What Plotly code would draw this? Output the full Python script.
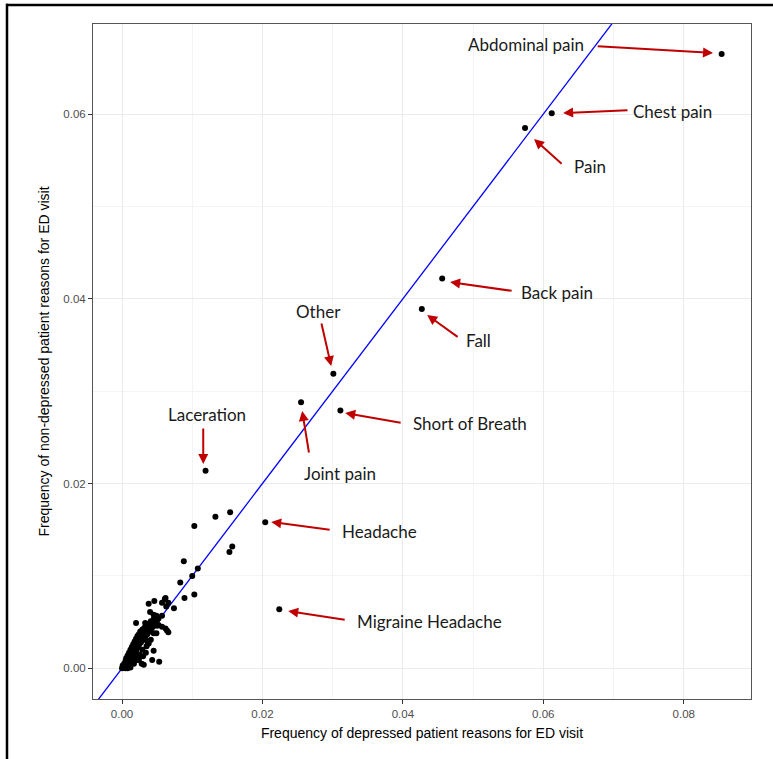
import plotly.graph_objects as go

# ---- data: frequency of ED visit reasons ----
named_reasons = ["Abdominal pain", "Chest pain", "Pain", "Back pain", "Fall", "Other",
                 "Joint pain", "Short of Breath", "Laceration", "Headache", "Migraine Headache"]
named_depressed = [0.0854, 0.0612, 0.0574, 0.0456, 0.0427, 0.0301,
                   0.0255, 0.0311, 0.0119, 0.0204, 0.0224]
named_nondepressed = [0.0665, 0.0601, 0.0585, 0.0422, 0.0389, 0.0319,
                      0.0288, 0.0279, 0.0214, 0.0158, 0.0064]

other_depressed = [
    0.0000, 0.0001, 0.0002, 0.0003, 0.0004, 0.0005, 0.0006, 0.0006, 0.0007, 0.0008,
    0.0008, 0.0009, 0.0010, 0.0010, 0.0011, 0.0012, 0.0012, 0.0013, 0.0014, 0.0014,
    0.0015, 0.0016, 0.0016, 0.0017, 0.0018, 0.0018, 0.0019, 0.0020, 0.0020, 0.0021,
    0.0022, 0.0022, 0.0023, 0.0024, 0.0024, 0.0025, 0.0026, 0.0027, 0.0028, 0.0029,
    0.0030, 0.0031, 0.0032, 0.0033, 0.0034, 0.0035, 0.0036, 0.0037, 0.0038, 0.0039,
    0.0040, 0.0041, 0.0042, 0.0043, 0.0044, 0.0045, 0.0046, 0.0047, 0.0048, 0.0049,
    0.0050, 0.0052, 0.0050,
    0.0038, 0.0046, 0.0057, 0.0061, 0.0066, 0.0063, 0.0040, 0.0045, 0.0047, 0.0057,
    0.0020, 0.0033, 0.0043, 0.0047, 0.0052, 0.0057, 0.0062, 0.0064, 0.0066, 0.0045,
    0.0045, 0.0043, 0.0053, 0.0028, 0.0031, 0.0026, 0.0019, 0.0021, 0.0062, 0.0074,
    0.0083, 0.0089, 0.0100, 0.0103, 0.0108, 0.0088, 0.0103, 0.0133, 0.0154, 0.0157, 0.0153,
    0.0015, 0.0025, 0.0035, 0.0030, 0.0012, 0.0008, 0.0038, 0.0034, 0.0049, 0.0041,
    0.0024, 0.0017, 0.0005, 0.0029, 0.0036,
]
other_nondepressed = [
    0.0000, 0.0003, 0.0001, 0.0005, 0.0002, 0.0008, 0.0004, 0.0011, 0.0007, 0.0002,
    0.0014, 0.0009, 0.0005, 0.0017, 0.0012, 0.0020, 0.0008, 0.0015, 0.0023, 0.0011,
    0.0018, 0.0026, 0.0013, 0.0021, 0.0029, 0.0016, 0.0024, 0.0032, 0.0019, 0.0027,
    0.0035, 0.0022, 0.0030, 0.0037, 0.0025, 0.0033, 0.0040, 0.0028, 0.0036, 0.0042,
    0.0031, 0.0038, 0.0044, 0.0034, 0.0041, 0.0046, 0.0037, 0.0043, 0.0048, 0.0040,
    0.0046, 0.0051, 0.0043, 0.0050, 0.0045, 0.0053, 0.0048, 0.0055, 0.0050, 0.0057,
    0.0052, 0.0054, 0.0046,
    0.0070, 0.0073, 0.0071, 0.0075, 0.0071, 0.0067, 0.0061, 0.0058, 0.0054, 0.0057,
    0.0049, 0.0049, 0.0050, 0.0049, 0.0047, 0.0045, 0.0043, 0.0041, 0.0039, 0.0038,
    0.0019, 0.0009, 0.0007, 0.0005, 0.0004, 0.0013, 0.0011, 0.0009, 0.0076, 0.0065,
    0.0093, 0.0076, 0.0100, 0.0080, 0.0108, 0.0116, 0.0154, 0.0164, 0.0169, 0.0132, 0.0126,
    0.0006, 0.0015, 0.0024, 0.0013, 0.0001, 0.0000, 0.0027, 0.0017, 0.0038, 0.0031,
    0.0009, 0.0005, 0.0000, 0.0020, 0.0029,
]

tick_values = [0.00, 0.02, 0.04, 0.06, 0.08]
tick_labels = ["0.00", "0.02", "0.04", "0.06", "0.08"]
ref_line = [-0.01, 0.10]  # identity line y = x

# label text centres and arrow (tail -> head) positions, in data units
label_text_pos = {
    "Abdominal pain": (0.05755, 0.06758),
    "Chest pain": (0.07834, 0.06027),
    "Pain": (0.06667, 0.05437),
    "Back pain": (0.06197, 0.04073),
    "Fall": (0.05072, 0.03554),
    "Other": (0.02795, 0.03868),
    "Joint pain": (0.03107, 0.02114),
    "Short of Breath": (0.04958, 0.02655),
    "Laceration": (0.01214, 0.02753),
    "Headache": (0.03663, 0.01476),
    "Migraine Headache": (0.04375, 0.00512),
}
arrow_pos = {
    "Abdominal pain": ((0.06753, 0.06736), (0.08417, 0.06661)),
    "Chest pain": ((0.07221, 0.06043), (0.06282, 0.06011)),
    "Pain": ((0.06282, 0.05448), (0.05869, 0.05729)),
    "Back pain": ((0.05570, 0.04084), (0.04673, 0.04181)),
    "Fall": ((0.04801, 0.03576), (0.04346, 0.03825)),
    "Other": ((0.02836, 0.03749), (0.02979, 0.03272)),
    "Joint pain": ((0.02666, 0.02320), (0.02566, 0.02785)),
    "Short of Breath": ((0.03990, 0.02655), (0.03179, 0.02764)),
    "Laceration": ((0.01157, 0.02612), (0.01157, 0.02212)),
    "Headache": ((0.02979, 0.01497), (0.02125, 0.01584)),
    "Migraine Headache": ((0.03193, 0.00523), (0.02367, 0.00620)),
}

fig = go.Figure()
fig.add_trace(go.Scatter(x=ref_line, y=ref_line, mode="lines",
                         line=dict(color="#0000FF", width=1.3), hoverinfo="skip"))
fig.add_trace(go.Scatter(x=other_depressed, y=other_nondepressed, mode="markers",
                         marker=dict(color="black", size=6, line=dict(width=0))))
fig.add_trace(go.Scatter(x=named_depressed, y=named_nondepressed, mode="markers",
                         text=named_reasons,
                         marker=dict(color="black", size=6, line=dict(width=0))))

annotations = []
for name in named_reasons:
    (tx, ty), (hx, hy) = arrow_pos[name]
    annotations.append(dict(x=hx, y=hy, ax=tx, ay=ty, xref="x", yref="y",
                            axref="x", ayref="y", text="", showarrow=True,
                            arrowhead=2, arrowsize=1, arrowwidth=2,
                            arrowcolor="#C00000", standoff=0, startstandoff=0))
    lx, ly = label_text_pos[name]
    annotations.append(dict(x=lx, y=ly, xref="x", yref="y", text=name,
                            showarrow=False,
                            font=dict(family="Lato", size=17, color="#1a1a1a")))

shapes = [
    dict(type="line", xref="paper", yref="paper", x0=-0.1322, x1=1.04,
         y0=1.0281, y1=1.0281, line=dict(color="black", width=2.5)),
    dict(type="line", xref="paper", yref="paper", x0=-0.1307, x1=-0.1307,
         y0=-0.1, y1=1.03, line=dict(color="black", width=2.5)),
]

axis_common = dict(
    showline=True, mirror=True, linecolor="#555555", linewidth=1,
    showgrid=True, gridcolor="#EBEBEB", gridwidth=1,
    zeroline=False, ticks="outside", ticklen=4, tickcolor="#333333",
    tickfont=dict(family="Liberation Sans", size=11.5, color="#4D4D4D"),
    tickvals=tick_values, ticktext=tick_labels,
    minor=dict(showgrid=True, gridcolor="#F4F4F4", gridwidth=1, dtick=0.01,
               tick0=0.01, ticks=""),
)

fig.update_layout(
    width=773, height=759,
    margin=dict(l=93, r=22, t=24, b=60),
    paper_bgcolor="white", plot_bgcolor="white",
    showlegend=False,
    annotations=annotations,
    shapes=shapes,
    xaxis=dict(range=[-0.00413, 0.08958],
               title=dict(text="Frequency of depressed patient reasons for ED visit",
                          font=dict(family="Liberation Sans", size=14, color="black"),
                          standoff=9),
               **axis_common),
    yaxis=dict(range=[-0.00332, 0.06975],
               title=dict(text="Frequency of non-depressed patient reasons for ED visit",
                          font=dict(family="Liberation Sans", size=14, color="black"),
                          standoff=10),
               **axis_common),
)

fig.write_html("out.html", config={"displayModeBar": False},
               post_script="document.body.style.margin='0px';")
